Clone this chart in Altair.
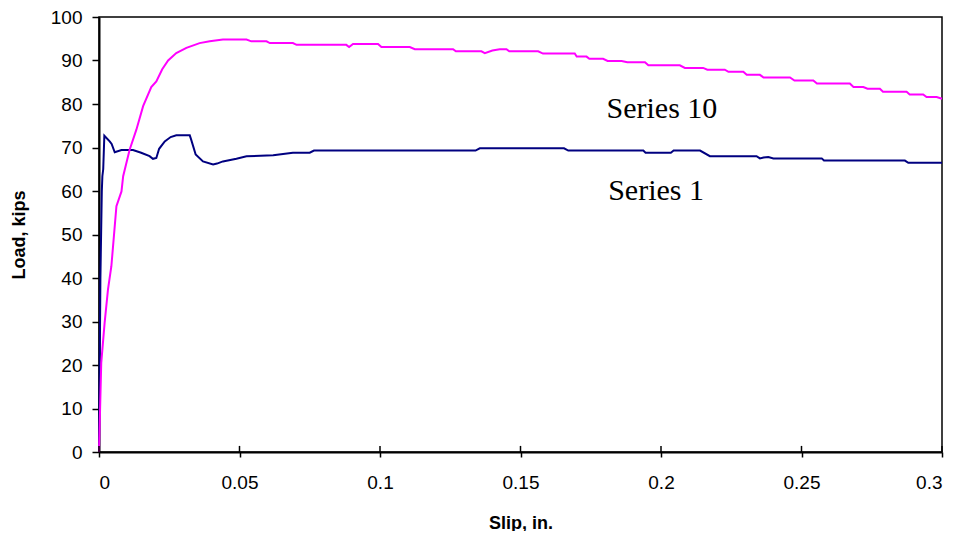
import altair as alt
import pandas as pd

# Series 1 (navy)
s1_x = [0, 0.0005, 0.0010, 0.0012, 0.0015, 0.0019, 0.0038, 0.0045, 0.0056, 0.0080, 0.0121,
        0.0150, 0.0180, 0.0192, 0.0204, 0.0214, 0.0234, 0.0255, 0.0275, 0.0323, 0.0328,
        0.0344, 0.0370, 0.0406, 0.0420, 0.0441, 0.0489, 0.0525, 0.0620, 0.0690, 0.0750,
        0.0765, 0.1340, 0.1355, 0.1655, 0.1670, 0.1937, 0.1945, 0.2035, 0.2045, 0.2139,
        0.2174, 0.2340, 0.2352, 0.2365, 0.2382, 0.2400, 0.2572, 0.2580, 0.2868, 0.2880, 0.3]
s1_y = [0, 40, 60, 63.4, 65, 72.7, 71.4, 70.8, 68.9, 69.4, 69.4,
        68.8, 68.0, 67.4, 67.6, 69.7, 71.4, 72.4, 72.8, 72.8, 71.8,
        68.4, 66.8, 66.1, 66.3, 66.8, 67.4, 68.0, 68.2, 68.8, 68.8,
        69.3, 69.3, 69.8, 69.8, 69.3, 69.3, 68.8, 68.8, 69.3, 69.3,
        68.0, 68.0, 67.5, 67.7, 67.8, 67.5, 67.5, 67.0, 67.0, 66.5, 66.5]

# Series 10 (magenta)
s10_x = [0, 0.0008, 0.0020, 0.0032, 0.0044, 0.0062, 0.0080, 0.0086, 0.0109, 0.0133, 0.0157,
         0.0186, 0.0204, 0.0225, 0.0246, 0.0275, 0.0311, 0.0358, 0.0394, 0.0441, 0.0525,
         0.0542, 0.0596, 0.0608, 0.0690, 0.0703, 0.0880, 0.0890, 0.0904, 0.0993, 0.1005,
         0.1106, 0.1124, 0.1260, 0.1270, 0.1361, 0.1373, 0.1400, 0.1426, 0.1450, 0.1460,
         0.1563, 0.1580, 0.1693, 0.1700, 0.1735, 0.1745, 0.1794, 0.1810, 0.1860, 0.1880,
         0.1943, 0.1955, 0.2067, 0.2085, 0.2150, 0.2165, 0.2227, 0.2240, 0.2293, 0.2305,
         0.2352, 0.2365, 0.2459, 0.2475, 0.2542, 0.2555, 0.2672, 0.2685, 0.2720, 0.2735,
         0.2779, 0.2790, 0.2874, 0.2885, 0.2933, 0.2945, 0.2981, 0.3]
s10_y = [0, 20.5, 29.7, 37.4, 42.7, 56.5, 59.9, 63.4, 69.5, 74.1, 79.5,
         83.9, 85.2, 88.0, 90.0, 91.7, 92.9, 94.0, 94.4, 94.8, 94.8,
         94.4, 94.4, 94.0, 94.0, 93.6, 93.6, 93.1, 93.8, 93.8, 93.1,
         93.1, 92.6, 92.6, 92.1, 92.1, 91.7, 92.3, 92.6, 92.6, 92.1,
         92.1, 91.6, 91.6, 90.9, 90.9, 90.4, 90.4, 89.9, 89.9, 89.6,
         89.6, 88.9, 88.9, 88.3, 88.3, 87.9, 87.9, 87.4, 87.4, 86.7,
         86.7, 86.1, 86.1, 85.4, 85.4, 84.7, 84.7, 83.9, 83.9, 83.5,
         83.5, 82.8, 82.8, 82.2, 82.2, 81.6, 81.6, 81.2]

x_ticks = [0, 0.05, 0.1, 0.15, 0.2, 0.25, 0.3]
y_ticks = [0, 10, 20, 30, 40, 50, 60, 70, 80, 90, 100]

label_text = ["Series 10", "Series 1"]
label_x = [0.1806, 0.1812]
label_y = [76.8, 58.0]

df = pd.concat([
    pd.DataFrame({"slip": s1_x, "load": s1_y, "series": "Series 1", "i": range(len(s1_x))}),
    pd.DataFrame({"slip": s10_x, "load": s10_y, "series": "Series 10", "i": range(len(s10_x))}),
])
ticks_df = pd.DataFrame({"slip": x_ticks})
labels_df = pd.DataFrame({"slip": label_x, "load": label_y, "t": label_text})

xs = alt.Scale(domain=[0, 0.3], nice=False, zero=False)
ys = alt.Scale(domain=[0, 100], nice=False)

lines = alt.Chart(df).mark_line(strokeWidth=2).encode(
    x=alt.X("slip:Q", scale=xs,
            axis=alt.Axis(values=x_ticks, format=".2~f", title="Slip, in.",
                          tickSize=5, labelPadding=16, titlePadding=22)),
    y=alt.Y("load:Q", scale=ys,
            axis=alt.Axis(values=y_ticks, title="Load, kips",
                          tickSize=7, labelPadding=10, titlePadding=22)),
    color=alt.Color("series:N",
                    scale=alt.Scale(domain=["Series 1", "Series 10"],
                                    range=["#000080", "#FF00FF"]),
                    legend=None),
    order="i:Q",
)

inner_ticks = alt.Chart(ticks_df).mark_rule(color="black", strokeWidth=1.5).encode(
    x=alt.X("slip:Q", scale=xs),
    y=alt.datum(0),
    y2=alt.datum(1.4),
)

labels = alt.Chart(labels_df).mark_text(
    align="left", baseline="alphabetic", font="Liberation Serif",
    fontSize=30, color="black"
).encode(
    x=alt.X("slip:Q", scale=xs),
    y=alt.Y("load:Q", scale=ys),
    text="t:N",
)

chart = alt.layer(lines, inner_ticks, labels).properties(
    width=843, height=435,
    autosize=alt.AutoSizeParams(type="none"),
    padding={"left": 91, "top": 9, "right": 8, "bottom": 79},
    background="white",
).configure_view(
    stroke="black", strokeWidth=1.5
).configure_axis(
    grid=False,
    domainColor="black", domainWidth=2,
    tickColor="black", tickWidth=1.5,
    labelFont="Liberation Sans", labelFontSize=19, labelColor="black",
    titleFont="Liberation Sans", titleFontSize=18, titleFontWeight="bold",
    titleColor="black",
)

chart.save("out.html", embed_options={"renderer": "svg", "actions": False})
